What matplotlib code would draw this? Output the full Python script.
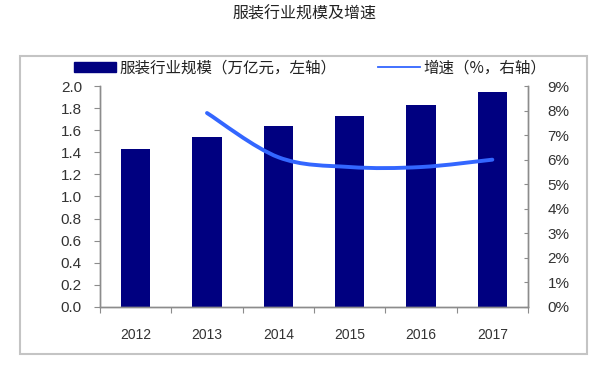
import matplotlib
matplotlib.use("Agg")
import matplotlib.pyplot as plt
from matplotlib.path import Path
from matplotlib.patches import PathPatch, Rectangle, Patch
from matplotlib.lines import Line2D
from matplotlib.ticker import MultipleLocator, FuncFormatter

plt.rcParams['font.family'] = ['Noto Sans CJK SC', 'DejaVu Sans']

years = ["2012", "2013", "2014", "2015", "2016", "2017"]
scale = [1.43, 1.54, 1.64, 1.73, 1.83, 1.95]          # 万亿元
growth_years = ["2013", "2014", "2015", "2016", "2017"]
growth = [7.9, 6.1, 5.7, 5.7, 6.0]                    # %

title = "服装行业规模及增速"
bar_label = "服装行业规模（万亿元，左轴）"
line_label = "增速（%，右轴）"

bar_color = "#000080"
line_color = "#3366ff"
axis_color = "#8c8c8c"
text_color = "#333333"

fig = plt.figure(figsize=(6.09, 3.72), dpi=100)
ax = fig.add_axes([100/609, 1-307/372, 428/609, 221/372])
ax2 = ax.twinx()

x = list(range(len(years)))
ax.bar(x, scale, width=0.41, color=bar_color, zorder=2)
ax.set_xlim(-0.5, len(years)-0.5)
ax.set_ylim(0, 2.0)
ax.yaxis.set_major_locator(MultipleLocator(0.2))
ax.yaxis.set_major_formatter(FuncFormatter(lambda v, p: f"{v:.1f}"))
ax.set_xticks([i + 0.5 for i in range(-1, len(years))], minor=False)
ax.set_xticklabels([""] * (len(years) + 1))
ax.set_xticks(x, minor=True)
ax.set_xticklabels(years, minor=True)
ax.tick_params(axis='x', which='minor', length=0, pad=15, labelsize=10,
               labelcolor=text_color, labelfontfamily='Liberation Sans')
ax.tick_params(axis='x', which='major', direction='out', length=4, color=axis_color)
ax.tick_params(axis='y', direction='out', length=4, color=axis_color, pad=9,
               labelsize=11, labelcolor=text_color, labelfontfamily='Liberation Sans')

ax2.set_ylim(0, 9)
ax2.yaxis.set_major_locator(MultipleLocator(1))
ax2.yaxis.set_major_formatter(FuncFormatter(lambda v, p: f"{v:.0f}%"))
ax2.tick_params(axis='y', direction='in', length=3, color=axis_color, pad=14,
                labelsize=11, labelcolor=text_color, labelfontfamily='Liberation Sans')

for a in (ax, ax2):
    a.spines["top"].set_visible(False)
    for s in ("left", "right", "bottom"):
        a.spines[s].set_color(axis_color)
        a.spines[s].set_linewidth(1.0)

# smooth growth curve (Bezier through data points)
gx = [years.index(y) for y in growth_years]
pts = list(zip(gx, growth))
n = len(pts)
verts = [pts[0]]
codes = [Path.MOVETO]
for i in range(n - 1):
    p0 = pts[i - 1] if i > 0 else pts[i]
    p1 = pts[i]
    p2 = pts[i + 1]
    p3 = pts[i + 2] if i + 2 < n else pts[i + 1]
    c1 = (p1[0] + (p2[0] - p0[0]) / 6, p1[1] + (p2[1] - p0[1]) / 6)
    c2 = (p2[0] - (p3[0] - p1[0]) / 6, p2[1] - (p3[1] - p1[1]) / 6)
    verts += [c1, c2, p2]
    codes += [Path.CURVE4] * 3
ax2.add_patch(PathPatch(Path(verts, codes), facecolor='none', edgecolor=line_color,
                        lw=2.8, capstyle='round', zorder=3))

# title
fig.text(305/609, 1-14/372, title, ha='center', va='center', fontsize=11.5,
         color='#222222', fontweight='light')

# legend
handles = [Patch(facecolor=bar_color, edgecolor=bar_color),
           Line2D([], [], color=line_color, lw=1.3)]
fig.legend(handles, [bar_label, line_label], ncol=2, frameon=False,
           loc='center left', bbox_to_anchor=(74/609, 1-68/372),
           handlelength=2.7, handleheight=0.58, handletextpad=0.2,
           columnspacing=2.7, borderaxespad=0, borderpad=0,
           labelcolor='#222222', prop={'weight': 'medium', 'size': 11.2})

# frame around chart
fig.patches.append(Rectangle((20/609, 1-354/372), 567/609, 298/372, transform=fig.transFigure,
                             fill=False, edgecolor='#c4c4c4', lw=1.5))

fig.savefig("out.png", dpi=100)
